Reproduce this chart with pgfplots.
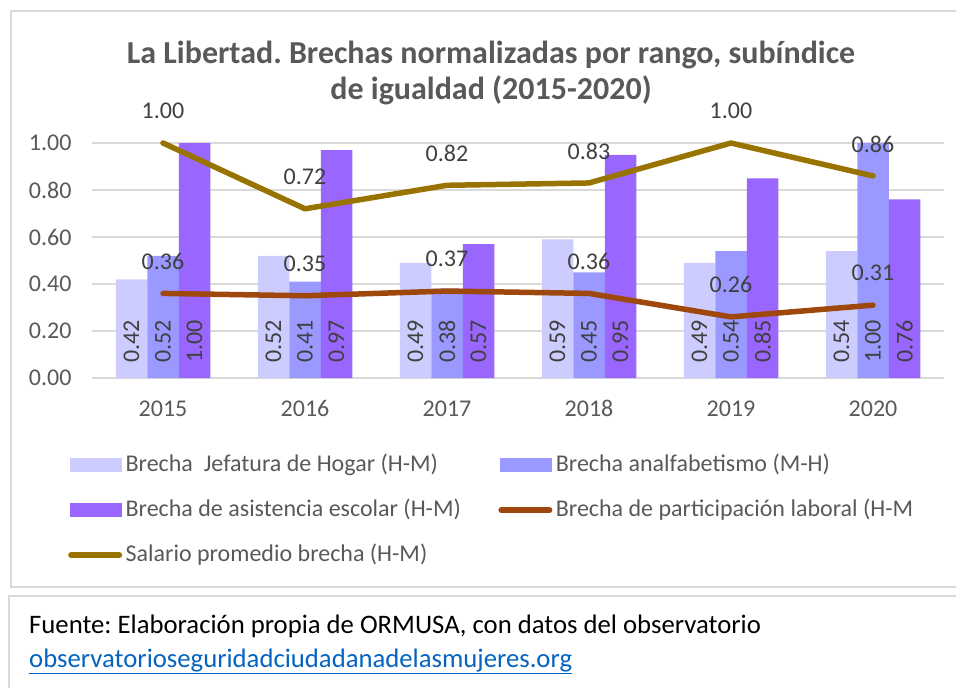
\documentclass[border=0pt]{standalone}
\usepackage{pgfplots}
\usepackage{pgfplotstable}
\pgfplotsset{compat=1.18}
\usepackage{fontspec}
\setmainfont{Carlito}
\frenchspacing
\definecolor{cJef}{HTML}{CCCCFF}
\definecolor{cAna}{HTML}{9999FF}
\definecolor{cAsi}{HTML}{9966FF}
\definecolor{cPar}{HTML}{9E480E}
\definecolor{cSal}{HTML}{997300}
\definecolor{txt}{HTML}{595959}
\definecolor{lbl}{HTML}{404040}
\definecolor{grd}{HTML}{D9D9D9}
\definecolor{urlc}{HTML}{0563C1}
\pgfplotstableread{
x jef ana asi par sal
0 0.42 0.52 1.00 0.36 1.00
1 0.52 0.41 0.97 0.35 0.72
2 0.49 0.38 0.57 0.37 0.82
3 0.59 0.45 0.95 0.36 0.83
4 0.49 0.54 0.85 0.26 1.00
5 0.54 1.00 0.76 0.31 0.86
}\datatable
\pgfplotsset{
  barlbl/.style={
    draw=none, mark=none, forget plot,
    nodes near coords={\pgfmathprintnumber[fixed,fixed zerofill,precision=2]{\pgfplotspointmeta}},
    every node near coord/.append style={xshift=#1, yshift=15pt, rotate=90, anchor=west, inner sep=0pt, text=lbl, font=\fontsize{24}{28}\selectfont},
  },
  barleg/.style={legend image code/.code={\fill[##1] (2pt,-7pt) rectangle (54pt,7pt);}},
  linelbl/.style={
    nodes near coords={\pgfmathprintnumber[fixed,fixed zerofill,precision=2]{\pgfplotspointmeta}},
    every node near coord/.append style={anchor=center, yshift=32pt, inner sep=0pt, text=lbl, font=\fontsize{24}{28}\selectfont},
    legend image code/.code={\draw[##1, line width=6pt, line cap=round] (3pt,0pt) -- (51pt,0pt);}
  }
}
\begin{document}
\begin{tikzpicture}[x=1pt,y=1pt]
\path[use as bounding box] (0,0) rectangle (956,-688);
\begin{scope}
\clip (0,0) rectangle (956,-688);
\draw[grd, line width=1.3pt] (11,-11) rectangle (975,-587);
\draw[grd, line width=1.3pt] (9,-596) rectangle (975,-710);
\end{scope}
\node[font=\fontsize{32}{36}\selectfont\bfseries, text=txt, align=center] at (491,-73) {La Libertad. Brechas normalizadas por rango, subíndice\\de igualdad (2015-2020)};
\node[anchor=base west, font=\fontsize{26.7}{30}\selectfont, inner sep=0pt] at (29,-633) {Fuente: Elaboración propia de ORMUSA, con datos del observatorio};
\node[anchor=base west, font=\fontsize{26.7}{30}\selectfont, text=urlc, inner sep=0pt] at (29,-667) {\underline{observatorioseguridadciudadanadelasmujeres.org}};
\begin{axis}[
  at={(92pt,-378pt)}, anchor=south west,
  scale only axis, width=852pt, height=235pt,
  xmin=-0.5, xmax=5.5, ymin=0, ymax=1,
  xtick={0,1,2,3,4,5}, xticklabels={2015,2016,2017,2018,2019,2020},
  ytick={0,0.2,0.4,0.6,0.8,1},
  yticklabel style={/pgf/number format/fixed, /pgf/number format/fixed zerofill, /pgf/number format/precision=2, xshift=-17pt},
  /pgf/number format/assume math mode=true,
  axis line style={draw=none}, tick style={draw=none},
  ymajorgrids, grid style={grd, line width=1.2pt},
  clip=false,
  tick label style={font=\fontsize{24}{28}\selectfont, text=txt},
  xticklabel style={yshift=-19pt},
  legend columns=2, legend cell align=left,
  legend style={at={(-0.0282,-0.3234)}, anchor=north west, draw=none, fill=none, inner sep=0pt,
    font=\fontsize{24}{28}\selectfont, text=txt, row sep=23pt,
    nodes={inner xsep=3.5pt, inner ysep=0pt, text height=17pt, text depth=5pt},
    /tikz/column 2/.style={column sep=34pt}},
]
\addplot[ybar, bar width=31.5pt, bar shift=-31.5pt, fill=cJef, draw=none, barleg] table[x=x, y=jef] {\datatable};
\addlegendentry{Brecha\ \ Jefatura de Hogar (H-M)}
\addplot[ybar, bar width=31.5pt, bar shift=0pt, fill=cAna, draw=none, barleg] table[x=x, y=ana] {\datatable};
\addlegendentry{Brecha analfabetismo (M-H)}
\addplot[ybar, bar width=31.5pt, bar shift=31.5pt, fill=cAsi, draw=none, barleg] table[x=x, y=asi] {\datatable};
\addlegendentry{Brecha de asistencia escolar (H-M)}
\addplot[cPar, line width=5.5pt, line join=round, line cap=round, mark=none, linelbl] table[x=x, y=par] {\datatable};
\addlegendentry{Brecha de participación laboral (H-M}
\addplot[cSal, line width=5.5pt, line join=round, line cap=round, mark=none, linelbl] table[x=x, y=sal] {\datatable};
\addlegendentry{Salario promedio brecha (H-M)}
\addplot[barlbl=-31.5pt, point meta=\thisrow{jef}] table[x=x, y expr=0] {\datatable};
\addplot[barlbl=0pt, point meta=\thisrow{ana}] table[x=x, y expr=0] {\datatable};
\addplot[barlbl=31.5pt, point meta=\thisrow{asi}] table[x=x, y expr=0] {\datatable};
\end{axis}
\end{tikzpicture}
\end{document}
